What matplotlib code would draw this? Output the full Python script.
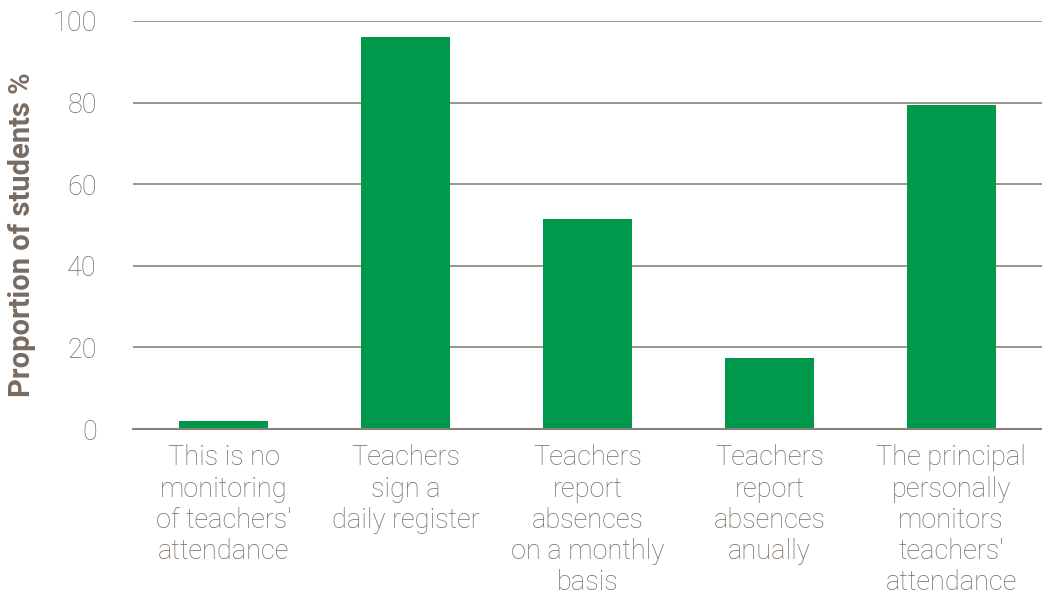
import matplotlib
matplotlib.use('Agg')
import matplotlib.pyplot as plt

categories = ["This is no\nmonitoring\nof teachers'\nattendance",
              "Teachers\nsign a\ndaily register",
              "Teachers\nreport\nabsences\non a monthly\nbasis",
              "Teachers\nreport\nabsences\nanually",
              "The principal\npersonally\nmonitors\nteachers'\nattendance"]
values = [2, 96, 51.5, 17.5, 79.5]
yticks = [0, 20, 40, 60, 80, 100]

green = '#00984a'
txt = '#776b62'
grid = '#8a807a'

plt.rcParams['font.family'] = ['Roboto', 'DejaVu Sans']

fig = plt.figure(figsize=(10.42, 5.96), dpi=100)
ax = fig.add_axes([0.1276, 0.280, 0.8724, 0.6848])

x = range(len(values))
ax.bar(x, values, width=0.49, color=green, zorder=3)

ax.set_xlim(-0.5, len(values) - 0.5)
ax.set_ylim(0, 100)
ax.set_yticks(yticks)
ax.set_yticklabels([str(t) for t in yticks], fontsize=19.5, color=txt, fontweight='light')
ax.set_xticks(list(x))
ax.set_xticklabels(categories, fontsize=19.5, color=txt, fontweight='light', linespacing=1.2, va='top')
ax.tick_params(axis='both', length=0)
ax.tick_params(axis='y', pad=26)
ax.tick_params(axis='x', pad=11)

for y in yticks[1:]:
    ax.axhline(y, color=grid, lw=1.2, zorder=1)

for s in ['top', 'right', 'left']:
    ax.spines[s].set_visible(False)
ax.spines['bottom'].set_color(grid)
ax.spines['bottom'].set_linewidth(1.5)
ax.spines['bottom'].set_zorder(4)

fig.text(0.021, 0.607, 'Proportion of students %', rotation=90, ha='center', va='center',
         fontsize=21, fontweight='bold', color=txt)

fig.savefig('out.png', dpi=100)
